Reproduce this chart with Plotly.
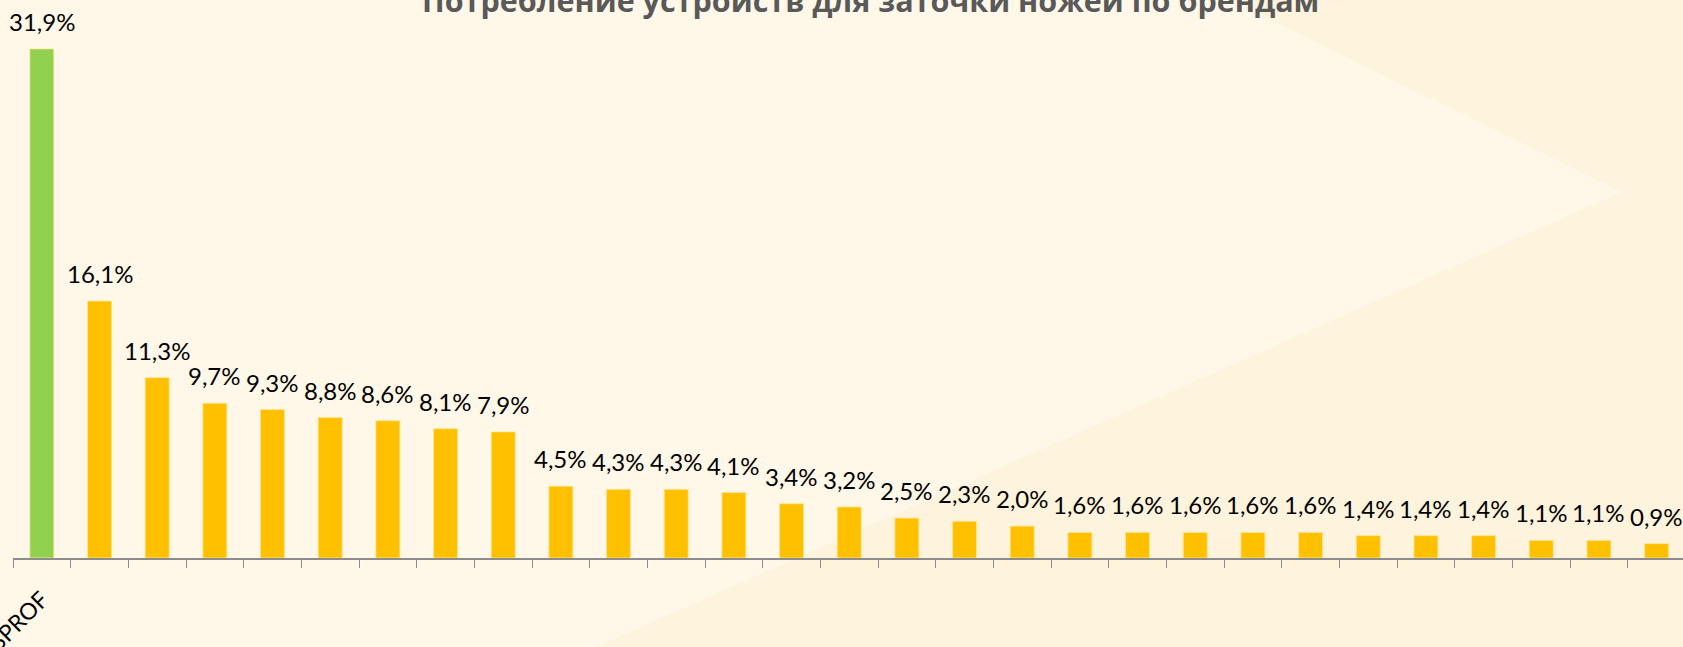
import plotly.graph_objects as go

title_text = "Потребление устройств для заточки ножей по брендам"
first_label = "SPROF"
categories = [first_label] + [f"Бренд {i}" for i in range(2, 30)]
values = [31.9, 16.1, 11.3, 9.7, 9.3, 8.8, 8.6, 8.1, 7.9, 4.5, 4.3, 4.3, 4.1, 3.4,
          3.2, 2.5, 2.3, 2.0, 1.6, 1.6, 1.6, 1.6, 1.6, 1.4, 1.4, 1.4, 1.1, 1.1, 0.9]
highlight_color = "#92D050"
base_color = "#FFC000"
colors = [highlight_color] + [base_color] * (len(values) - 1)
labels = [f"{v:.1f}%".replace(".", ",") for v in values]
tick_texts = [first_label] + [""] * (len(categories) - 1)

W, H = 1683, 647
L, R = 13, 0
T, B = 47, 89
plot_w = W - L - R
plot_h = H - T - B
px_per_unit_x = 57.67
px_per_pct = 15.96
base_y = H - B
BG = "#FEF3DC"


def px_to_paper(px, py):
    return (px - L) / plot_w, (base_y - py) / plot_h


fig = go.Figure()
fig.add_trace(go.Bar(x=categories, y=values,
                     marker=dict(color=colors, line=dict(width=1, color="rgba(255,230,150,0.8)")),
                     hoverinfo="skip"))

for c, v, t in zip(categories, values, labels):
    fig.add_annotation(x=c, y=v, xref="x", yref="y", text=t, showarrow=False,
                       yanchor="bottom", xanchor="center", yshift=11,
                       font=dict(family="Lato", size=24, color="#000000"))

tx, ty = px_to_paper(870, 23)
fig.add_annotation(x=tx, y=ty, xref="paper", yref="paper", text=f"<b>{title_text}</b>",
                   showarrow=False, xanchor="center", yanchor="bottom",
                   font=dict(family="Open Sans", size=30.5, color="#595959"))

# background lighter arrow shape
pts = [(-5, -5), (1220, -5), (1622, 192), (585, H + 5), (-5, H + 5)]
pp = [px_to_paper(x, y) for x, y in pts]
path = "M " + " L ".join(f"{x:.4f},{y:.4f}" for x, y in pp) + " Z"
fig.add_shape(type="path", path=path, xref="paper", yref="paper", layer="below",
              fillcolor="#FFF8E8", line=dict(width=0))

fig.update_layout(
    width=W, height=H,
    margin=dict(l=L, r=R, t=T, b=B, autoexpand=False),
    paper_bgcolor=BG,
    plot_bgcolor="rgba(0,0,0,0)",
    showlegend=False,
    bargap=1 - 24 / px_per_unit_x,
    xaxis=dict(
        type="category",
        range=[-0.5, -0.5 + plot_w / px_per_unit_x],
        tickmode="array", tickvals=categories, ticktext=tick_texts,
        tickson="boundaries", ticks="outside", ticklen=8, tickwidth=1, tickcolor="#8C8C8C",
        showline=True, linecolor="#8C8C8C", linewidth=2,
        showgrid=False, zeroline=False, tickangle=-45,
        ticklabelstandoff=17,
        tickfont=dict(family="Lato", size=23, color="#000000"),
        automargin=False,
    ),
    yaxis=dict(range=[0, plot_h / px_per_pct], visible=False, showgrid=False, zeroline=False),
)

fig.write_html("out.html",
               config={"displayModeBar": False},
               post_script="document.body.style.margin='0';document.body.style.overflow='hidden';"
                           f"document.body.style.background='{BG}';")
